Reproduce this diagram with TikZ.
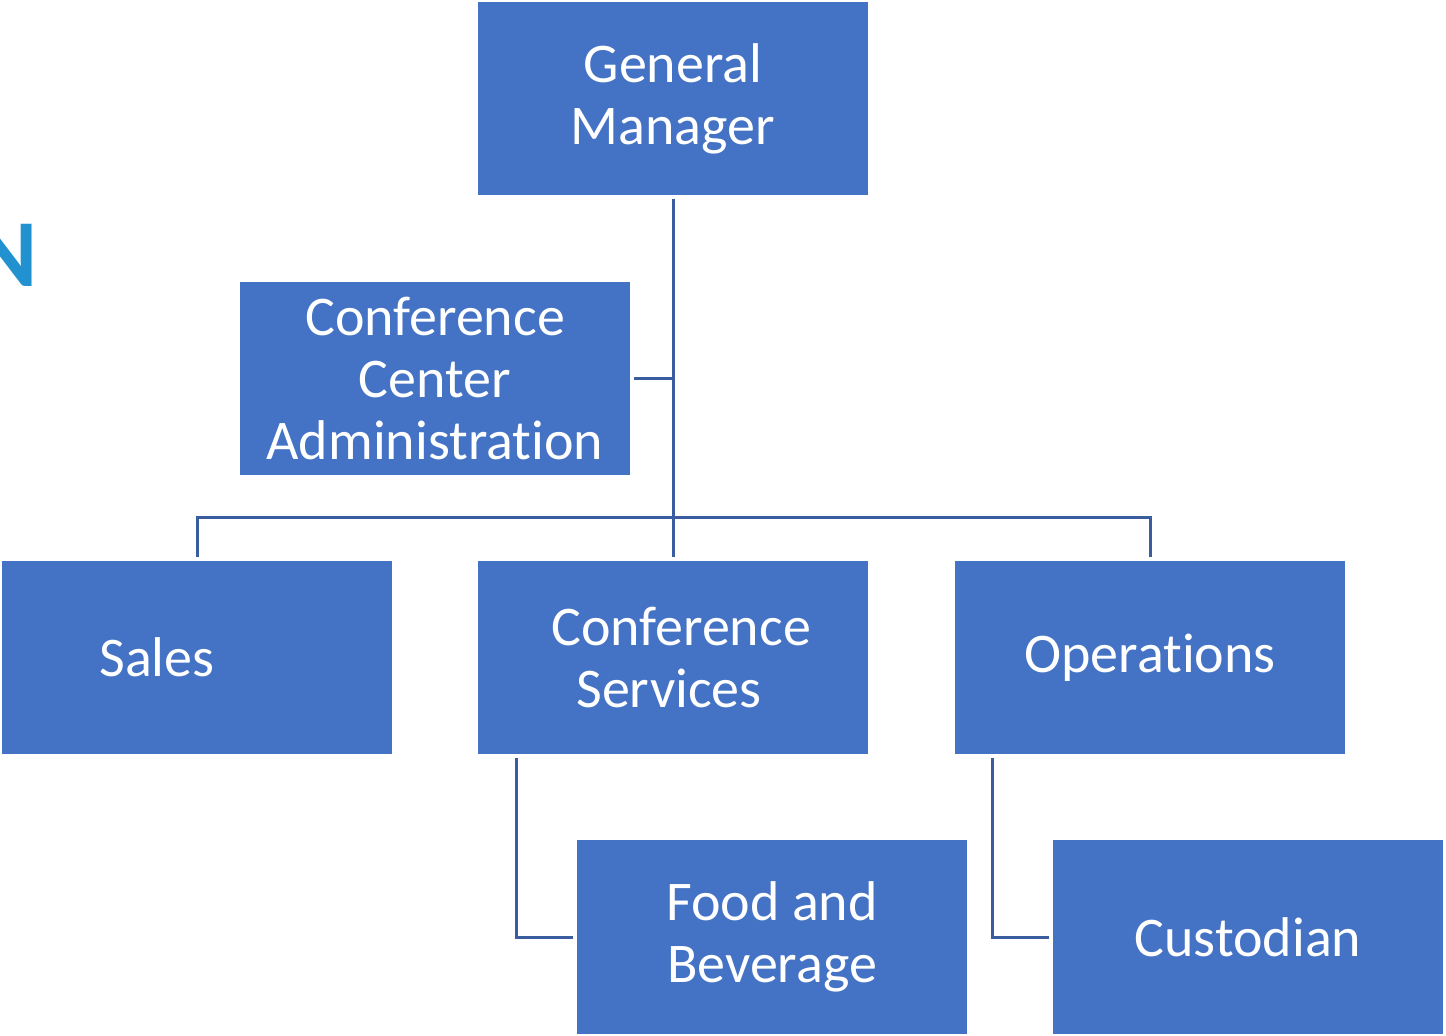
\documentclass[tikz,border=0pt]{standalone}
\usepackage{fontspec}
\setmainfont{Carlito}[Ligatures=NoCommon]
\usetikzlibrary{positioning}
\definecolor{boxblue}{HTML}{4472C4}
\definecolor{lineblue}{HTML}{3A5DA0}
\definecolor{titleblue}{HTML}{2291D0}
\tikzset{
	unit/.style={fill=boxblue, text=white, minimum width=195pt, minimum height=96.5pt, inner sep=0pt, align=center, font=\fontsize{28}{31}\selectfont},
	link/.style={draw=lineblue, line width=1.5pt}
}
\begin{document}
\begin{tikzpicture}[x=0.5pt, y=-0.5pt]
	\useasboundingbox (0, 0) rectangle (1446, 1036);
	\clip (0, 0) rectangle (1446, 1036);
	\node [anchor=base east, text=titleblue, font=\fontsize{48}{50}\selectfont\bfseries, inner sep=0pt] (title) at (38, 287) {N};
	\node [unit] (gm) at (673, 98.5) {General\\Manager};
	\node [unit] (cca) at (435, 378.5) {Conference\\Center\\Administration};
	\node [unit] (sales) at (197, 657.5) {};
	\node [text=white, font=\fontsize{28}{31}\selectfont] (salestext) at (157, 657.5) {Sales};
	\node [unit] (cs) at (673, 657.5) {};
	\node [text=white, font=\fontsize{28}{31}\selectfont, align=center] (cstext) at (669, 657.5) {\hspace*{12pt}Conference\\Services};
	\node [unit] (ops) at (1150, 657.5) {Operations};
	\node [unit] (fb) at (772, 937) {Food and\\Beverage};
	\node [unit] (cust) at (1248, 937) {Custodian};
	\coordinate (bus) at (673, 518);
	\draw [link] ([yshift=-2pt]gm.south) -- ([yshift=2pt]cs.north);
	\draw [link] ([xshift=2pt]cca.east) -- (cca.east -| gm.south);
	\draw [link] ([yshift=2pt]sales.north) |- (bus) -| ([yshift=2pt]ops.north);
	\draw [link] ([xshift=-78.5pt, yshift=-2pt]cs.south) |- ([xshift=-2pt]fb.west);
	\draw [link] ([xshift=-79pt, yshift=-2pt]ops.south) |- ([xshift=-2pt]cust.west);
\end{tikzpicture}
\end{document}
